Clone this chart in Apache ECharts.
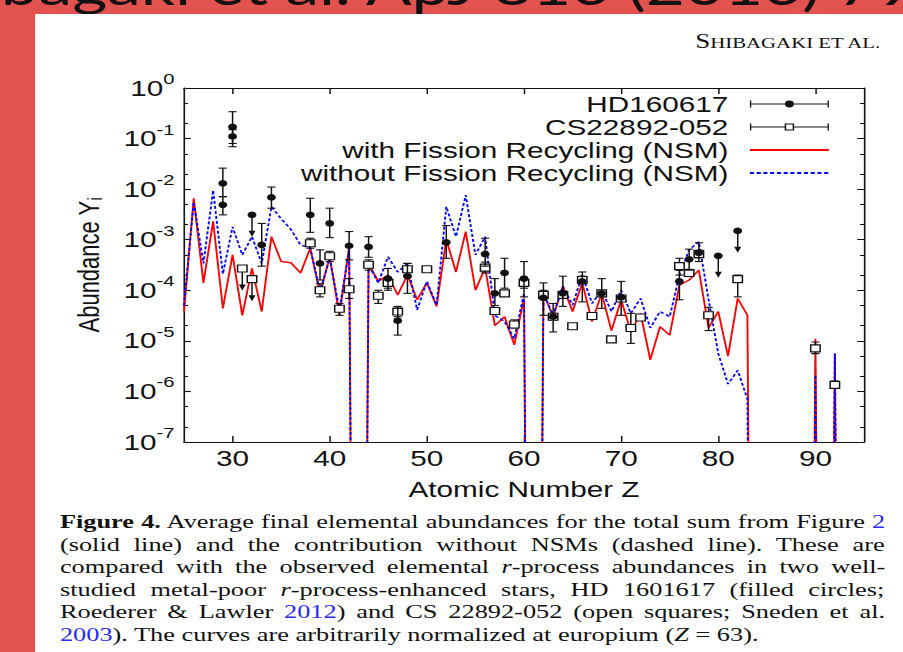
<!DOCTYPE html>
<html>
<head>
<meta charset="utf-8">
<title>Average final elemental abundances</title>
<script src="https://cdn.jsdelivr.net/npm/echarts@6/dist/echarts.min.js"></script>
<style>
  html, body { margin: 0; padding: 0; }
  body { width: 903px; height: 652px; overflow: hidden; background: #e2524f; position: relative; }
  /* the slide content is laid out at its natural width and widened horizontally */
  #slide { position: absolute; left: 0; top: 0; width: 669px; height: 652px; transform: scaleX(1.35); transform-origin: 0 0; }
  #title { position: absolute; left: -66px; top: -44px; font: 50px Lato, 'Open Sans', sans-serif; color: #111; white-space: nowrap; }
  #page { position: absolute; left: 26px; top: 14px; right: 0; bottom: 0; background: #fff; }
  #chart { position: absolute; left: 0; top: 0; width: 669px; height: 652px; }
  #runhead { position: absolute; right: 17px; top: 31px; line-height: 20px; font-family: 'Liberation Serif', serif; color: #111; white-space: nowrap; }
  #caption { position: absolute; left: 44.4px; top: 511px; width: 612px; font: 19.5px/22.5px 'Liberation Serif', serif; color: #111; }
  #caption span { display: inline-block; white-space: nowrap; }
  #caption a { color: #2b2bf0; text-decoration: none; }
</style>
</head>
<body>
<div id="slide">
  <div id="title">Shibagaki et al. ApJ 816 (2016) 79</div>
  <div id="page"></div>
  <div id="chart"></div>
  <div id="runhead"><span style="font-size:20px">S</span><span style="font-size:15.4px">HIBAGAKI ET AL.</span></div>
  <div id="caption">
    <span class="j"><b>Figure 4.</b> Average final elemental abundances for the total sum from Figure <a>2</a></span><br>
    <span class="j">(solid line) and the contribution without NSMs (dashed line). These are</span><br>
    <span class="j">compared with the observed elemental <i>r</i>-process abundances in two well-</span><br>
    <span class="j">studied metal-poor <i>r</i>-process-enhanced stars, HD 1601617 (filled circles;</span><br>
    <span class="j">Roederer &amp; Lawler <a>2012</a>) and CS 22892-052 (open squares; Sneden et al.</span><br>
    <span><a>2003</a>). The curves are arbitrarily normalized at europium (<i>Z</i> = 63).</span>
  </div>
</div>
<script>
// ---- model curves: abundance Y_i versus atomic number Z ----
// 1e-30 marks elements the model leaves essentially empty (Tc, Pm, Po..Ac, Pa, Np)
const atomicNumber = [25,26,27,28,29,30,31,32,33,34,35,36,37,38,39,40,41,42,43,44,45,46,47,48,49,50,51,52,53,54,55,56,57,58,59,60,61,62,63,64,65,66,67,68,69,70,71,72,73,74,75,76,77,78,79,80,81,82,83,84,85,86,87,88,89,90,91,92,93];
const withFission = [3.8e-5,6.6e-3,1.4e-4,2.3e-3,4.4e-5,5.0e-4,3.2e-5,2.7e-4,3.8e-5,1.15e-3,3.7e-4,3.5e-4,2.2e-4,6.8e-4,8.7e-5,4.6e-4,3.2e-5,7.2e-4,1e-30,3.4e-4,1.5e-4,2.0e-4,8.1e-5,2.0e-4,6.5e-5,1.4e-4,4.8e-5,1.0e-3,2.3e-4,1.45e-3,1.0e-4,2.8e-4,2.0e-5,3.0e-5,8.3e-6,6.9e-5,1e-30,8.7e-5,3.0e-5,1.2e-4,3.8e-5,1.4e-4,2.4e-5,8.7e-5,1.6e-5,6.5e-5,1.5e-5,3.5e-5,4.2e-6,1.9e-5,1.3e-5,1.26e-4,1.6e-4,2.5e-4,1.8e-5,3.8e-5,5.0e-6,6.9e-5,3.2e-5,1e-30,1e-30,1e-30,1e-30,1e-30,1e-30,1.1e-5,1e-30,5.6e-6,1e-30];
const withoutFission = [5.0e-5,5.6e-3,3.4e-4,9.5e-3,2.1e-4,1.8e-3,5.0e-4,1.15e-3,3.4e-4,4.5e-3,2.6e-3,1.6e-3,7.9e-4,6.8e-4,9.3e-5,4.3e-4,4.1e-5,6.3e-4,1e-30,3.2e-4,1.4e-4,4.6e-4,2.3e-4,3.4e-4,4.1e-5,1.5e-4,5.1e-5,4.5e-3,1.15e-3,7.6e-3,5.0e-4,1.15e-3,3.2e-5,2.4e-5,1.1e-5,8.7e-5,1e-30,8.7e-5,3.2e-5,1.2e-4,5.1e-5,2.0e-4,5.5e-5,1.0e-4,3.8e-5,1.0e-4,3.5e-5,6.9e-5,1.8e-5,3.8e-5,3.0e-5,2.0e-4,6.3e-4,9.1e-4,6.5e-5,5.6e-6,1.4e-6,2.6e-6,7.1e-7,1e-30,1e-30,1e-30,1e-30,1e-30,1e-30,2.1e-6,1e-30,5.6e-6,1e-30];

// ---- HD 160617 (filled circles) ----
const hdZ    = [29,29,30,30,33,34,38,39,40,42,44,46,47,48,52,56,57,58,60,62,63,64,66,68,70,76,77,78];
const hdY    = [1.3e-2,4.9e-3,1.7e-1,1.1e-1,7.9e-4,6.9e-3,3.1e-3,3.4e-4,2.1e-3,7.6e-4,7.2e-4,1.7e-4,2.5e-5,1.9e-4,8.9e-4,5.2e-4,8.7e-5,2.2e-4,1.7e-4,7.1e-5,3.0e-5,8.7e-5,1.5e-4,8.7e-5,7.2e-5,1.5e-4,4.1e-4,5.5e-4];
const hdLow  = [7.1e-3,3.1e-3,8.0e-2,6.9e-2,3.0e-4,4.2e-3,1.4e-3,1.6e-4,1.1e-3,4.0e-4,4.5e-4,1.0e-4,1.3e-5,8.7e-5,4.3e-4,3.0e-4,5.0e-5,1.1e-4,7.4e-5,3.2e-5,1.5e-5,4.8e-5,5.9e-5,4.4e-5,3.2e-5,6.5e-5,2.5e-4,3.7e-4];
const hdHigh = [2.6e-2,7.1e-3,3.4e-1,1.5e-1,2.1e-3,1.1e-2,6.6e-3,6.3e-4,4.2e-3,1.45e-3,1.15e-3,2.7e-4,4.4e-5,3.4e-4,1.9e-3,1.07e-3,1.7e-4,4.3e-4,3.7e-4,1.4e-4,5.5e-5,1.9e-4,2.3e-4,1.7e-4,1.5e-4,2.5e-4,6.5e-4,8.7e-4];
const hdLimitZ = [32,80,82];
const hdLimitY = [3.1e-3,4.8e-4,1.5e-3];

// ---- CS 22892-052 (open squares) ----
const csZ    = [38,39,40,41,42,44,45,46,47,48,50,56,57,58,59,60,62,63,64,65,66,67,68,69,70,71,72,76,77,78,79,82,90,92];
const csY    = [8.5e-4,1.0e-4,4.7e-4,4.3e-5,1.05e-4,3.2e-4,7.8e-5,1.4e-4,3.8e-5,2.6e-4,2.6e-4,2.8e-4,3.9e-5,8.7e-5,2.1e-5,1.4e-4,8.1e-5,3.0e-5,8.1e-5,1.95e-5,1.6e-4,3.1e-5,8.7e-5,1.07e-5,6.9e-5,1.8e-5,2.9e-5,3.0e-4,2.2e-4,5.2e-4,3.2e-5,1.66e-4,7.1e-6,1.35e-6];
const csLow  = [6.8e-4,7.4e-5,3.7e-4,3.2e-5,6.9e-5,2.5e-4,5.5e-5,1.1e-4,3.0e-5,2.0e-4,2.6e-4,2.2e-4,3.4e-5,7.8e-5,1.8e-5,1.1e-4,6.5e-5,2.6e-5,7.0e-5,1.95e-5,1.35e-4,3.1e-5,7.6e-5,1.07e-5,6.0e-5,8.9e-6,2.9e-5,2.0e-4,1.9e-4,4.4e-4,1.6e-5,7.4e-5,5.6e-6,1.15e-6];
const csHigh = [1.07e-3,1.35e-4,5.9e-4,5.5e-5,1.7e-4,4.0e-4,1.0e-4,1.8e-4,4.8e-5,3.4e-4,2.6e-4,3.6e-4,4.4e-5,9.8e-5,2.6e-5,1.8e-4,1.0e-4,3.5e-5,9.5e-5,1.95e-5,1.9e-4,3.1e-5,1.0e-4,1.07e-5,8.0e-5,3.5e-5,2.9e-5,4.3e-4,2.6e-4,6.2e-4,4.6e-5,2.0e-4,9.5e-6,1.6e-6];
const csLimitZ = [31,32];
const csLimitY = [2.7e-4,1.66e-4];

// ---- axes ----
const zTicks = [30,40,50,60,70,80,90];
const minorTickFactors = [2,5];
const decades = [-7,-6,-5,-4,-3,-2,-1];

const SANS = "'Liberation Sans', Arial, sans-serif";
const INK = '#111';

// justify the caption lines to the column width
document.querySelectorAll('#caption span.j').forEach(function (el) {
  const column = 611;
  const gaps = el.textContent.split(' ').length - 1;
  el.style.wordSpacing = ((column - el.offsetWidth) / gaps) + 'px';
});

const modelWith = atomicNumber.map((z, i) => [z, withFission[i]]);
const modelWithout = atomicNumber.map((z, i) => [z, withoutFission[i]]);
const hdData = hdZ.map((z, i) => [z, hdY[i], hdLow[i], hdHigh[i], 0])
  .concat(hdLimitZ.map((z, i) => [z, hdLimitY[i], hdLimitY[i], hdLimitY[i], 1]));
const csData = csZ.map((z, i) => [z, csY[i], csLow[i], csHigh[i], 0])
  .concat(csLimitZ.map((z, i) => [z, csLimitY[i], csLimitY[i], csLimitY[i], 1]));
const minorTicks = [];
decades.forEach(d => minorTickFactors.forEach(f => minorTicks.push(d + Math.log10(f))));

// error bar / upper-limit glyphs drawn around each observed point
function observation(marker) {
  return function (params, api) {
    const z = api.value(0), y = api.value(1), lo = api.value(2), hi = api.value(3), lim = api.value(4);
    const p = api.coord([z, y]);
    const ink = { stroke: INK, lineWidth: 1.1, fill: null };
    const parts = [];
    if (lim) {
      const tip = p[1] + 22;
      parts.push({ type: 'line', shape: { x1: p[0], y1: p[1], x2: p[0], y2: tip - 5 }, style: ink });
      parts.push({ type: 'polygon', shape: { points: [[p[0] - 2.6, tip - 6], [p[0] + 2.6, tip - 6], [p[0], tip]] }, style: { fill: INK } });
    } else if (hi > lo) {
      const top = api.coord([z, hi])[1], bot = api.coord([z, lo])[1];
      parts.push({ type: 'line', shape: { x1: p[0], y1: top, x2: p[0], y2: bot }, style: ink });
      parts.push({ type: 'line', shape: { x1: p[0] - 3, y1: top, x2: p[0] + 3, y2: top }, style: ink });
      parts.push({ type: 'line', shape: { x1: p[0] - 3, y1: bot, x2: p[0] + 3, y2: bot }, style: ink });
    }
    if (marker === 'circle') {
      parts.push({ type: 'circle', shape: { cx: p[0], cy: p[1], r: 3.3 }, style: { fill: INK } });
    } else {
      parts.push({ type: 'rect', shape: { x: p[0] - 3.5, y: p[1] - 3.5, width: 7, height: 7 }, style: { fill: '#fff', stroke: INK, lineWidth: 1.1 } });
    }
    return { type: 'group', children: parts };
  };
}

const frameLine = { show: true, onZero: false, lineStyle: { color: INK, width: 1.2 } };
const tickInk = { color: INK, width: 1.1 };

const hdIcon = 'path://M0 0H1V3H57.5V0H58.5V7H57.5V4H1V7H0Z M32.55 3.5A3.3 3.5 0 1 1 25.95 3.5A3.3 3.5 0 1 1 32.55 3.5Z';
const csIcon = 'path://M0 0H1V3H25.75V4H1V7H0Z M32.75 3H57.5V0H58.5V7H57.5V4H32.75Z M25.75 0H32.75V7H25.75Z M26.85 1.1V5.9H31.65V1.1Z';

const chart = echarts.init(document.getElementById('chart'), null, { renderer: 'svg' });
chart.setOption({
  animation: false,
  backgroundColor: 'transparent',
  textStyle: { fontFamily: SANS },
  grid: { left: 136.3, right: 29, top: 88, bottom: 210 },
  legend: {
    orient: 'vertical', align: 'right', right: 49, top: 88, itemGap: 1,
    itemWidth: 58.5, itemHeight: 7, selectedMode: false,
    textStyle: { fontSize: 22, lineHeight: 22, fontFamily: SANS, color: INK, padding: [0, 11, 0, 0] },
    data: [
      { name: 'HD160617', icon: hdIcon },
      { name: 'CS22892-052', icon: csIcon },
      { name: 'with Fission Recycling (NSM)', itemStyle: { opacity: 0 } },
      { name: 'without Fission Recycling (NSM)', itemStyle: { opacity: 0 } }
    ]
  },
  xAxis: [
    {
      type: 'value', min: 25, max: 95, position: 'bottom',
      axisLine: frameLine,
      axisTick: { inside: true, length: 6, customValues: zTicks, lineStyle: tickInk },
      axisLabel: { customValues: zTicks, margin: 5, fontSize: 22, fontFamily: SANS, color: INK },
      splitLine: { show: false },
      name: 'Atomic Number Z', nameLocation: 'middle', nameGap: 36,
      nameTextStyle: { fontSize: 22, fontFamily: SANS, color: INK }
    },
    {
      type: 'value', min: 25, max: 95, position: 'top',
      axisLine: frameLine,
      axisTick: { inside: true, length: 6, customValues: zTicks, lineStyle: tickInk },
      axisLabel: { show: false }, splitLine: { show: false }
    }
  ],
  yAxis: [
    {
      type: 'log', logBase: 10, min: 1e-7, max: 1, position: 'left',
      axisLine: frameLine,
      axisTick: { inside: true, length: 5, lineStyle: tickInk },
      axisLabel: {
        margin: 7, color: INK,
        formatter: v => '{b|10}{s|' + Math.round(Math.log10(v)) + '}',
        rich: {
          b: { fontSize: 22, fontFamily: SANS, color: INK },
          s: { fontSize: 15, fontFamily: SANS, color: INK, padding: [0, 0, 18, 0] }
        }
      },
      splitLine: { show: false },
      name: '{a|Abundance Y}{i|i}', nameLocation: 'middle', nameGap: 58,
      nameTextStyle: {
        rich: {
          a: { fontSize: 22, fontFamily: SANS, color: INK },
          i: { fontSize: 15, fontFamily: SANS, color: INK, padding: [10, 0, 0, 0] }
        }
      }
    },
    {
      type: 'log', logBase: 10, min: 1e-7, max: 1, position: 'right',
      axisLine: frameLine,
      axisTick: { inside: true, length: 5, lineStyle: tickInk },
      axisLabel: { show: false }, splitLine: { show: false }
    },
    {
      type: 'value', min: -7, max: 0, position: 'left',
      axisLine: { show: false },
      axisTick: { inside: true, length: 3, customValues: minorTicks, lineStyle: tickInk },
      axisLabel: { show: false }, splitLine: { show: false }
    },
    {
      type: 'value', min: -7, max: 0, position: 'right',
      axisLine: { show: false },
      axisTick: { inside: true, length: 3, customValues: minorTicks, lineStyle: tickInk },
      axisLabel: { show: false }, splitLine: { show: false }
    }
  ],
  series: [
    {
      name: 'with Fission Recycling (NSM)', type: 'line', data: modelWith,
      xAxisIndex: 0, yAxisIndex: 0, symbol: 'none', showSymbol: false, clip: true, z: 2,
      lineStyle: { color: '#ff0000', width: 1.4 }, itemStyle: { color: '#ff0000' }
    },
    {
      name: 'without Fission Recycling (NSM)', type: 'line', data: modelWithout,
      xAxisIndex: 0, yAxisIndex: 0, symbol: 'none', showSymbol: false, clip: true, z: 3,
      lineStyle: { color: '#0000ff', width: 1.4, type: [3, 2] }, itemStyle: { color: '#0000ff' }
    },
    {
      name: 'CS22892-052', type: 'custom', data: csData, renderItem: observation('square'),
      xAxisIndex: 0, yAxisIndex: 0, encode: { x: 0, y: 1 }, z: 4, itemStyle: { color: INK }
    },
    {
      name: 'HD160617', type: 'custom', data: hdData, renderItem: observation('circle'),
      xAxisIndex: 0, yAxisIndex: 0, encode: { x: 0, y: 1 }, z: 5, itemStyle: { color: INK }
    }
  ]
});
</script>
</body>
</html>
